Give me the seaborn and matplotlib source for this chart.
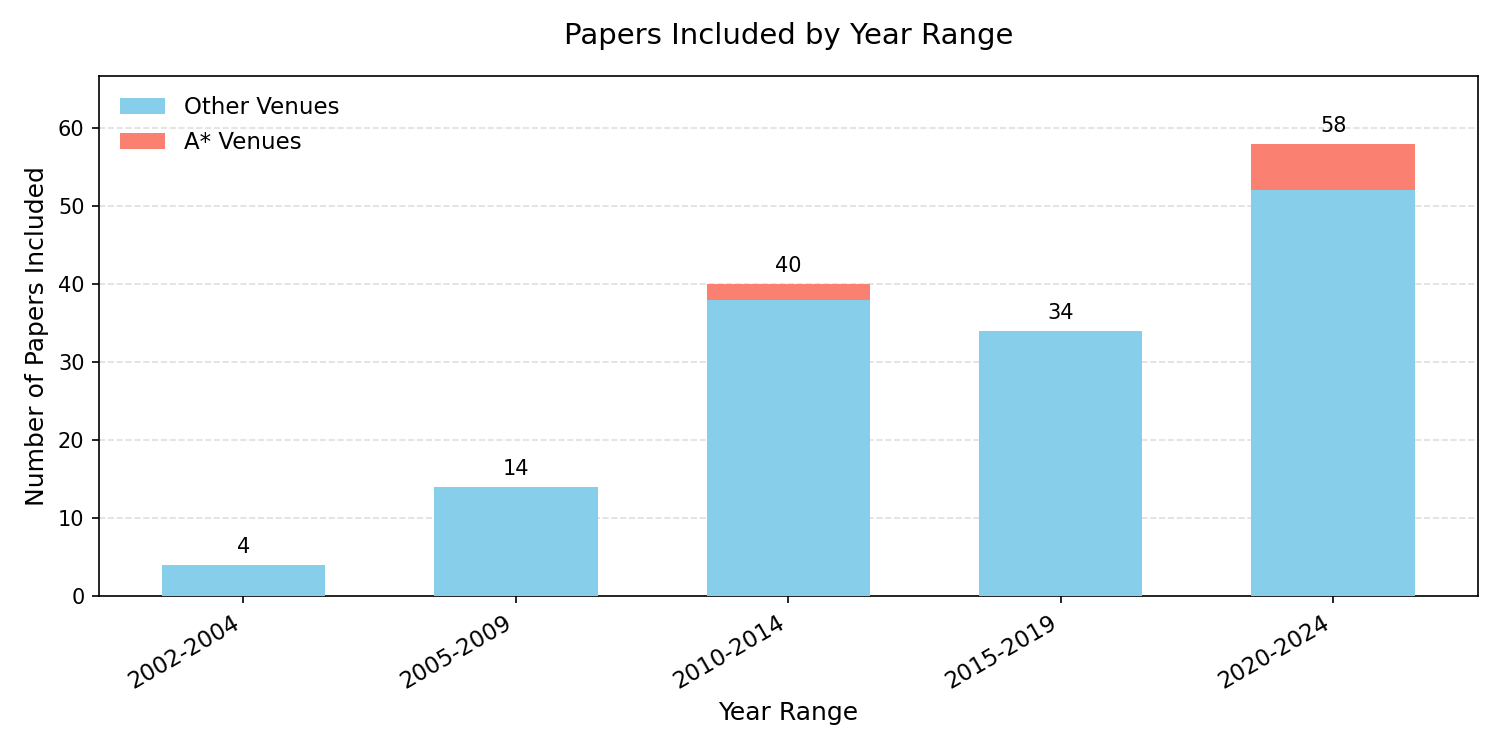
import matplotlib
matplotlib.use("Agg")
import matplotlib.pyplot as plt
import seaborn as sns

# Data
year_ranges = ["2002-2004", "2005-2009", "2010-2014", "2015-2019", "2020-2024"]
other_venues = [4, 14, 38, 34, 52]
astar_venues = [0, 0, 2, 0, 6]
totals = [o + a for o, a in zip(other_venues, astar_venues)]

fig, ax = plt.subplots(figsize=(10, 5), dpi=150)

sns.barplot(x=year_ranges, y=other_venues, color="skyblue", saturation=1,
            width=0.6, label="Other Venues", ax=ax, zorder=3)
sns.barplot(x=year_ranges, y=astar_venues, bottom=other_venues, color="salmon",
            saturation=1, width=0.6, label="A* Venues", ax=ax, zorder=3)

# Total labels above bars
for i, t in enumerate(totals):
    ax.text(i, t + 1, str(t), ha="center", va="bottom", fontsize=10)

# match matplotlib's default 5% x margins
n = len(year_ranges)
pad = 0.05 * (n - 1 + 0.6)
ax.set_xlim(-0.3 - pad, n - 1 + 0.3 + pad)
ax.set_ylim(0, max(totals) * 1.15)
ax.set_title("Papers Included by Year Range", fontsize=14, pad=15)
ax.set_xlabel("Year Range", fontsize=12)
ax.set_ylabel("Number of Papers Included", fontsize=12)
ax.grid(axis="y", linestyle="--", alpha=0.4, zorder=0)
ax.set_axisbelow(True)
plt.setp(ax.get_xticklabels(), rotation=30, ha="right", fontsize=11)
ax.legend(frameon=False, loc="upper left", fontsize=11)

plt.subplots_adjust(left=0.066, right=0.985, top=0.899, bottom=0.205)
plt.savefig("out.png")
